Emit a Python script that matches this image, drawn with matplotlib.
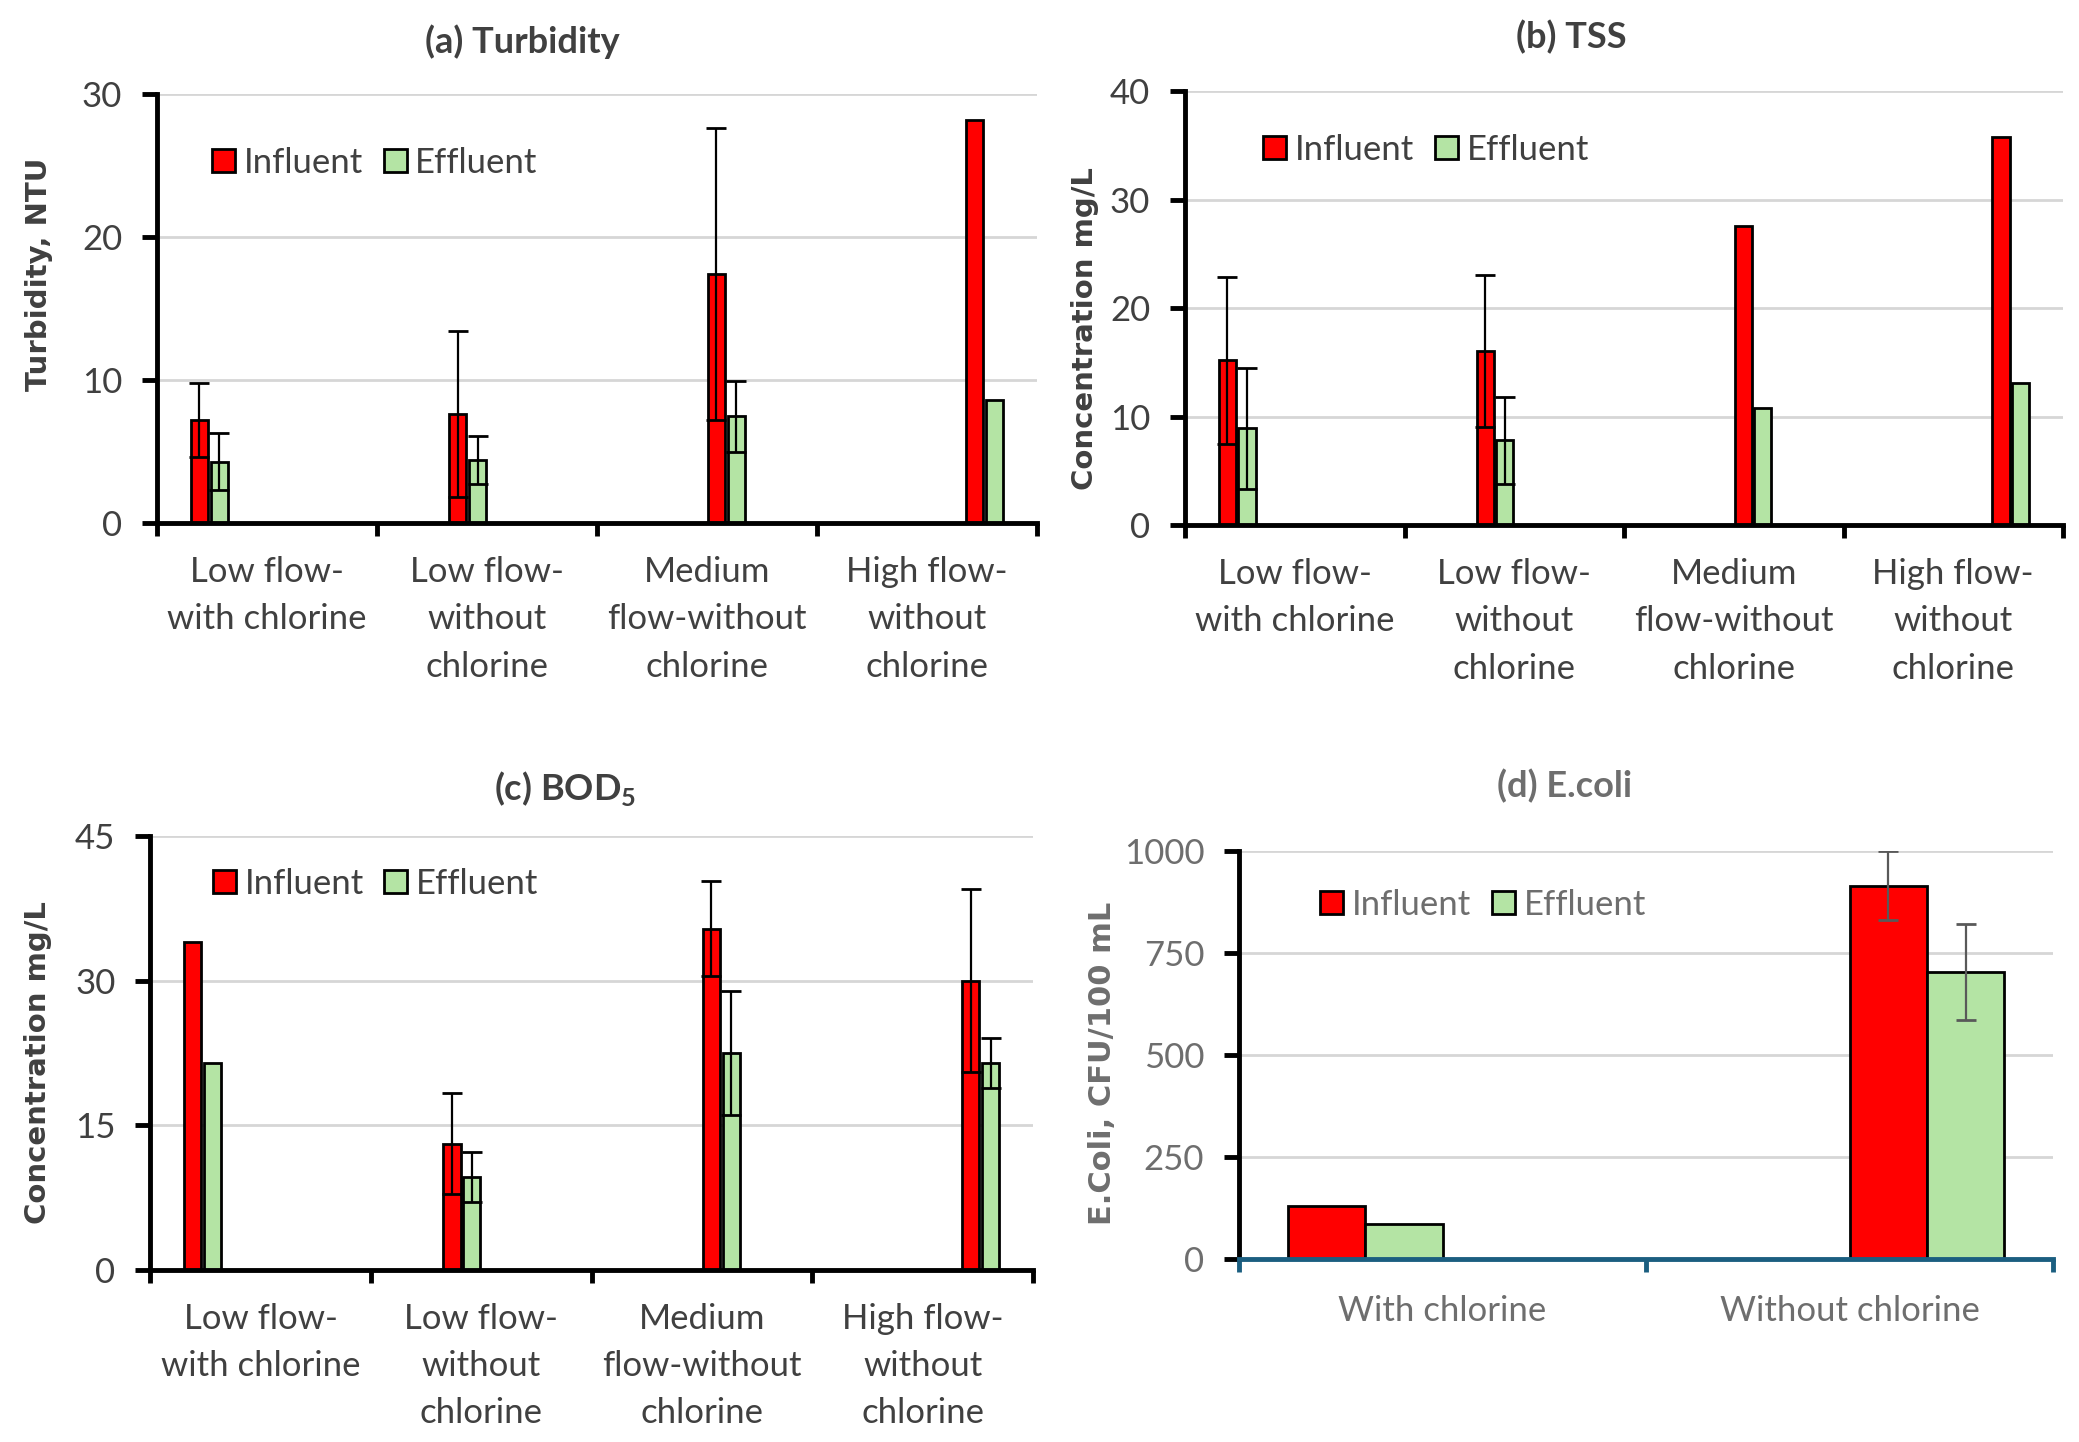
import numpy as np
import matplotlib
matplotlib.use('Agg')
import matplotlib.pyplot as plt

plt.rcParams['font.family'] = ['Lato', 'DejaVu Sans']
plt.rcParams['mathtext.fontset'] = 'custom'
plt.rcParams['mathtext.rm'] = 'Lato'
plt.rcParams['mathtext.bf'] = 'Lato:bold'

# 데이터
flow_cats = ['Low flow-\nwith chlorine', 'Low flow-\nwithout\nchlorine',
             'Medium\nflow-without\nchlorine', 'High flow-\nwithout\nchlorine']

turb_inf = [7.2, 7.6, 17.4, 28.2]
turb_inf_err = [2.6, 5.8, 10.2, 0]
turb_eff = [4.3, 4.4, 7.45, 8.6]
turb_eff_err = [2.0, 1.7, 2.5, 0]

tss_inf = [15.2, 16.0, 27.6, 35.8]
tss_inf_err = [7.7, 7.0, 0, 0]
tss_eff = [8.9, 7.8, 10.8, 13.1]
tss_eff_err = [5.6, 4.0, 0, 0]

bod_inf = [34.0, 13.1, 35.4, 30.0]
bod_inf_err = [0, 5.2, 4.9, 9.5]
bod_eff = [21.5, 9.6, 22.5, 21.5]
bod_eff_err = [0, 2.6, 6.4, 2.6]

ecoli_cats = ['With chlorine', 'Without chlorine']
ecoli_inf = [131, 915]
ecoli_inf_err = [0, 85]
ecoli_eff = [86, 704]
ecoli_eff_err = [0, 118]

RED = '#FF0000'
GREEN = '#B4E4A4'
DARK = '#404040'
GRAY = '#6E6E6E'


def draw_panel(ax, cats, inf, inf_err, eff, eff_err, ylim, step, ylabel, title,
               group_step, bar_w, bar_gap, txt_color, err_color, bottom_color,
               title_xy, label_xy, legend_xy, label_pad, label_size=21):
    n = len(cats)
    idx = np.arange(n)
    centers = idx + (idx - (n - 1) / 2) * group_step
    x_inf = centers - bar_gap / 2
    x_eff = centers + bar_gap / 2

    ax.bar(x_inf, inf, width=bar_w, color=RED, edgecolor='black', linewidth=2,
           label='Influent', zorder=2)
    ax.bar(x_eff, eff, width=bar_w, color=GREEN, edgecolor='black', linewidth=2,
           label='Effluent', zorder=2)

    # 오차 막대 (값이 있는 것만)
    for xs, ys, es in [(x_inf, inf, inf_err), (x_eff, eff, eff_err)]:
        sel = [i for i in range(n) if es[i] > 0]
        if sel:
            ax.errorbar([xs[i] for i in sel], [ys[i] for i in sel],
                        yerr=[es[i] for i in sel], fmt='none', ecolor=err_color,
                        elinewidth=1.6, capsize=7, capthick=2, zorder=3)

    ax.set_xlim(-0.5, n - 0.5)
    ax.set_ylim(*ylim)
    ax.set_yticks(np.arange(ylim[0], ylim[1] + step / 2, step))
    ax.set_xticks(np.arange(n + 1) - 0.5)
    ax.set_xticklabels([])
    ax.set_xticks(idx, minor=True)
    ax.set_xticklabels(cats, minor=True, fontsize=25, color=txt_color,
                       linespacing=1.58)
    ax.tick_params(axis='x', which='minor', length=0, pad=label_pad)
    ax.tick_params(axis='x', which='major', length=9, width=3.5,
                   color=bottom_color, direction='out')
    ax.tick_params(axis='y', length=11, width=3.5, color='black', pad=14,
                   labelsize=25, labelcolor=txt_color)

    ax.spines['top'].set_visible(False)
    ax.spines['right'].set_visible(False)
    ax.spines['left'].set_linewidth(3.5)
    ax.spines['bottom'].set_linewidth(3.5)
    ax.spines['bottom'].set_color(bottom_color)
    ax.spines['bottom'].set_zorder(4)

    ax.set_axisbelow(True)
    ax.grid(axis='y', color='#D6D6D6', linewidth=2)

    ax.set_ylabel(ylabel, fontsize=label_size, fontweight='bold',
                  color=txt_color, family='DejaVu Sans')
    ax.yaxis.set_label_coords(*label_xy)
    ax.yaxis.label.set_verticalalignment('center')

    ax.text(title_xy[0], title_xy[1], title, transform=ax.transAxes,
            ha='center', va='center', fontsize=26, fontweight='bold',
            color=txt_color)

    leg = ax.legend(loc='center left', bbox_to_anchor=legend_xy, ncol=2,
                    frameon=False, fontsize=25, borderpad=0, borderaxespad=0,
                    handlelength=0.66, handleheight=0.64, handletextpad=0.25,
                    columnspacing=0.6)
    for t in leg.get_texts():
        t.set_color(txt_color)


fig = plt.figure(figsize=(20.79, 14.42), dpi=100)

ax_a = fig.add_axes([0.0755, 0.6373, 0.4233, 0.2975])
ax_b = fig.add_axes([0.570, 0.6359, 0.4223, 0.301])
ax_c = fig.add_axes([0.0722, 0.1193, 0.4247, 0.301])
ax_d = fig.add_axes([0.596, 0.1269, 0.3915, 0.283])

draw_panel(ax_a, flow_cats, turb_inf, turb_inf_err, turb_eff, turb_eff_err,
           (0, 30), 10, 'Turbidity, NTU', '(a) Turbidity',
           0.175, 0.078, 0.09, DARK, 'black', 'black',
           (0.415, 1.121), (-0.134, 0.58), (0.0625, 0.839), 24)
draw_panel(ax_b, flow_cats, tss_inf, tss_inf_err, tss_eff, tss_eff_err,
           (0, 40), 10, 'Concentration mg/L', '(b) TSS',
           0.175, 0.078, 0.09, DARK, 'black', 'black',
           (0.44, 1.125), (-0.114, 0.452), (0.089, 0.864), 24)
draw_panel(ax_c, flow_cats, bod_inf, bod_inf_err, bod_eff, bod_eff_err,
           (0, 45), 15, 'Concentration mg/L', r'(c) BOD$_{\mathbf{5}}$',
           0.175, 0.078, 0.09, DARK, 'black', 'black',
           (0.47, 1.11), (-0.127, 0.479), (0.071, 0.889), 24)
draw_panel(ax_d, ecoli_cats, ecoli_inf, ecoli_inf_err, ecoli_eff, ecoli_eff_err,
           (0, 1000), 250, 'E.Coli, CFU/100 mL', '(d) E.coli',
           0.38, 0.19, 0.19, GRAY, '#595959', '#1B5E80',
           (0.40, 1.16), (-0.168, 0.48), (0.10, 0.868), 26, label_size=22)

fig.savefig('out.png', dpi=100)
